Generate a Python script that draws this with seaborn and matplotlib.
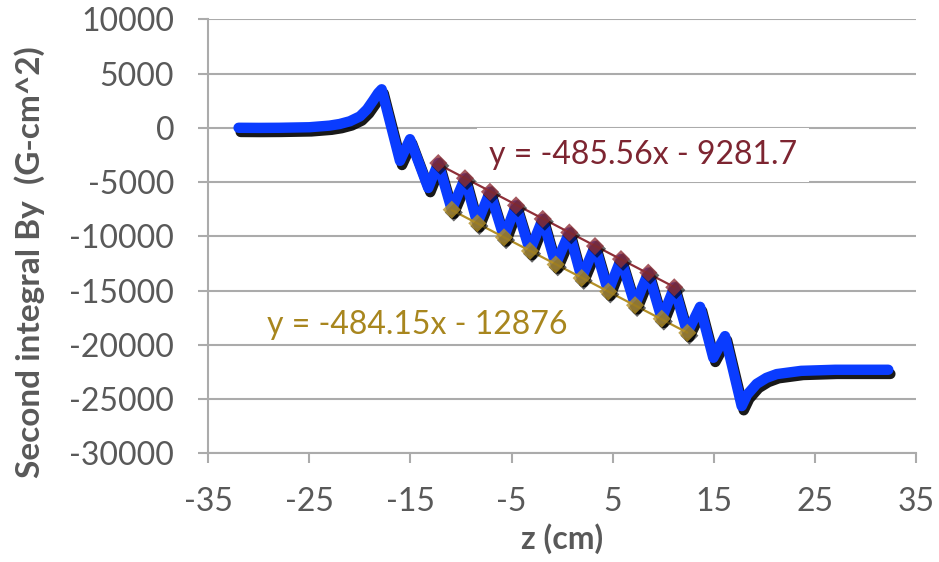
import numpy as np
import matplotlib
matplotlib.use('Agg')
import matplotlib.pyplot as plt
import matplotlib.patheffects as pe
import seaborn as sns

# second integral of By along z
z_cm = [-32.0, -30.0, -28.0, -25.0, -23.0, -22.0, -21.0, -20.0, -19.3, -18.7,
        -18.2, -17.85, -16.04, -15.05, -13.24, -12.25, -10.92, -9.61, -8.39, -7.14,
        -5.75, -4.56, -3.18, -1.92, -0.64, 0.71, 1.93, 3.25, 4.56, 5.82,
        7.21, 8.52, 9.85, 11.09, 12.38, 13.64, 14.95, 16.11, 17.76, 18.3,
        19.24, 20.2, 21.22, 23.64, 27.0, 32.26]
by_int = [0, -10, 0, 50, 200, 350, 600, 1050, 1700, 2500,
          3200, 3550, -3050, -1050, -5550, -3250, -7550, -4650, -8800, -5900,
          -10100, -7150, -11350, -8400, -12600, -9650, -13850, -10900, -15100, -12100,
          -16350, -13350, -17600, -14700, -18900, -16500, -21200, -19200, -25650, -24600,
          -23600, -23050, -22700, -22400, -22300, -22300]

# peaks (red) and troughs (gold) used for the trendlines
peak_z = [-12.25, -9.61, -7.14, -4.56, -1.92, 0.71, 3.25, 5.82, 8.52, 11.09]
peak_by = [-3250, -4650, -5900, -7150, -8400, -9650, -10900, -12100, -13350, -14700]
trough_z = [-10.92, -8.39, -5.75, -3.18, -0.64, 1.93, 4.56, 7.21, 9.85, 12.38]
trough_by = [-7550, -8800, -10100, -11350, -12600, -13850, -15100, -16350, -17600, -18900]

peak_label = 'y = -485.56x - 9281.7'
trough_label = 'y = -484.15x - 12876'
x_ticks = [-35, -25, -15, -5, 5, 15, 25, 35]
y_ticks = [10000, 5000, 0, -5000, -10000, -15000, -20000, -25000, -30000]

blue = '#0a3cff'
red = '#8f2f38'
gold = '#b38f27'
grey_text = '#595959'
grey_line = '#ababab'

sns.set_style('white')
plt.rcParams['font.family'] = ['Lato', 'DejaVu Sans']
plt.rcParams['axes.unicode_minus'] = False

fig = plt.figure(figsize=(9.39, 5.62), dpi=100)
ax = fig.add_axes([0.2218, 0.1934, 0.7537, 0.7723])

# main curve with a drop shadow
sns.lineplot(x=z_cm, y=by_int, color=blue, linewidth=7.5, ax=ax, zorder=3)
main = ax.lines[-1]
main.set_solid_joinstyle('round')
main.set_solid_capstyle('round')
main.set_path_effects([pe.SimpleLineShadow(offset=(1.5, -3), shadow_color='black', alpha=0.9),
                       pe.Normal()])

# peaks / troughs with linear trendlines
shadow = [pe.SimplePatchShadow(offset=(1.5, -2), shadow_rgbFace='black', alpha=0.6), pe.Normal()]
for xs, ys, col in [(peak_z, peak_by, red), (trough_z, trough_by, gold)]:
    sns.regplot(x=np.array(xs), y=np.array(ys), ci=None, marker='D', color=col, ax=ax,
                scatter_kws=dict(s=85, linewidths=0, zorder=5),
                line_kws=dict(linewidth=1.6, zorder=4))
    ax.collections[-1].set_path_effects(shadow)

ax.text(8.0, -3316, peak_label, color='#7d2531', fontsize=23, ha='center', va='baseline',
        zorder=2, bbox=dict(facecolor='white', edgecolor='none', boxstyle='square,pad=0.38'))
ax.text(-14.3, -19028, trough_label, color='#a8861e', fontsize=23, ha='center', va='baseline',
        zorder=2)

ax.set_xlim(-35, 35)
ax.set_ylim(-30000, 10000)
ax.set_xticks(x_ticks)
ax.set_yticks(y_ticks)
ax.yaxis.grid(True, color=grey_line, linewidth=1.5)
ax.set_axisbelow(True)

for side in ['top', 'right']:
    ax.spines[side].set_visible(False)
for side in ['left', 'bottom']:
    ax.spines[side].set_color(grey_line)
    ax.spines[side].set_linewidth(1.5)

ax.tick_params(axis='both', which='major', labelsize=23, labelcolor=grey_text,
               color=grey_line, width=1.5, length=7.5, direction='out')
ax.tick_params(axis='x', pad=17)
ax.tick_params(axis='y', pad=17)
ax.tick_params(left=True, bottom=True)

ax.set_xlabel('z (cm)', fontsize=23, fontweight='bold', color=grey_text, labelpad=4)
ax.set_ylabel('Second integral By  (G-cm^2)', fontsize=24, fontweight='bold', color=grey_text)
ax.yaxis.set_label_coords(-0.23, 0.44)

fig.savefig('out.png', dpi=100)
